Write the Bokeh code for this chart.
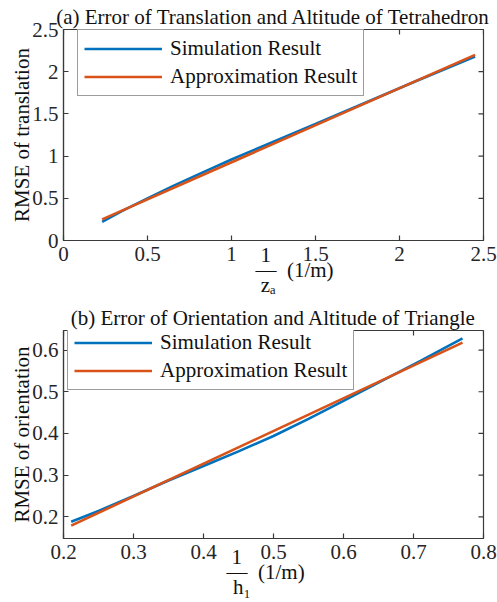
from bokeh.plotting import figure
from bokeh.layouts import column
from bokeh.models import Legend, LegendItem, FixedTicker, Range1d
from bokeh.embed import file_html
from bokeh.resources import INLINE

# ---------------- data ----------------
# (a) translation error vs 1/z_a
a_sim_x = [0.23, 0.35, 0.50, 0.65, 0.80, 1.00, 1.25, 1.50, 1.80, 2.10, 2.45]
a_sim_y = [0.22, 0.35, 0.50, 0.645, 0.78, 0.96, 1.17, 1.38, 1.635, 1.89, 2.18]
a_app_x = [0.23, 2.45]
a_app_y = [0.25, 2.20]
a_ticks = [0, 0.5, 1, 1.5, 2, 2.5]
a_tick_labels = ["0", "0.5", "1", "1.5", "2", "2.5"]

# (b) orientation error vs 1/h_1
b_sim_x = [0.211, 0.25, 0.30, 0.35, 0.40, 0.45, 0.50, 0.55, 0.60, 0.65, 0.71, 0.77]
b_sim_y = [0.188, 0.214, 0.250, 0.287, 0.322, 0.357, 0.394, 0.435, 0.478, 0.522, 0.574, 0.628]
b_app_x = [0.211, 0.77]
b_app_y = [0.179, 0.618]
b_xticks = [0.2, 0.3, 0.4, 0.5, 0.6, 0.7, 0.8]
b_xtick_labels = ["0.2", "0.3", "0.4", "0.5", "0.6", "0.7", "0.8"]
b_yticks = [0.2, 0.3, 0.4, 0.5, 0.6]
b_ytick_labels = ["0.2", "0.3", "0.4", "0.5", "0.6"]

series_names = ["Simulation Result", "Approximation Result"]
BLUE = "#0072BD"
ORANGE = "#D95319"
FONT = "Liberation Serif"
AX = "#3a3a3a"
FS = "21px"
NB = "\u00a0"

LEFT = 63
FRAME_W = 420
RIGHT = 14
W = LEFT + FRAME_W + RIGHT


def style_axes(p, xticks, xlabels, yticks, ylabels, xr, yr, fh, ylabel, xlabel, xl_standoff):
    p.xaxis.ticker = FixedTicker(ticks=xticks)
    p.yaxis.ticker = FixedTicker(ticks=yticks)
    p.xaxis.major_label_overrides = {t: l for t, l in zip(xticks, xlabels)}
    p.yaxis.major_label_overrides = {t: l for t, l in zip(yticks, ylabels)}
    for ax in [p.xaxis[0], p.yaxis[0]]:
        ax.major_tick_in = 5
        ax.major_tick_out = 0
        ax.minor_tick_line_color = None
        ax.axis_line_color = AX
        ax.axis_line_width = 1.2
        ax.major_tick_line_color = AX
        ax.major_tick_line_width = 1.2
        ax.major_label_text_font = FONT
        ax.major_label_text_font_size = FS
        ax.major_label_text_color = "#262626"
        ax.axis_label_text_font = FONT
        ax.axis_label_text_font_size = FS
        ax.axis_label_text_font_style = "normal"
        ax.axis_label_text_color = "#111111"
    p.xaxis.major_label_standoff = 6
    p.yaxis.major_label_standoff = 5
    p.yaxis.axis_label = ylabel
    p.yaxis.axis_label_standoff = -5
    p.xaxis.axis_label = xlabel
    p.xaxis.axis_label_standoff = xl_standoff
    p.xaxis.axis_label_text_line_height = 0.63
    p.grid.visible = False
    p.outline_line_color = AX
    p.outline_line_width = 1.2
    # inward ticks on the top and right edges of the box
    tick_dy = 5 * (yr[1] - yr[0]) / fh
    tick_dx = 5 * (xr[1] - xr[0]) / FRAME_W
    p.segment(x0=xticks, y0=[yr[1]] * len(xticks), x1=xticks,
              y1=[yr[1] - tick_dy] * len(xticks), line_color=AX, line_width=1.2)
    p.segment(x0=[xr[1]] * len(yticks), y0=yticks, x1=[xr[1] - tick_dx] * len(yticks),
              y1=yticks, line_color=AX, line_width=1.2)


def make_legend(p, r1, r2, loc):
    leg = Legend(items=[LegendItem(label=series_names[0], renderers=[r1]),
                        LegendItem(label=series_names[1], renderers=[r2])],
                 location=loc)
    leg.label_text_font = FONT
    leg.label_text_font_size = FS
    leg.label_text_color = "#111111"
    leg.glyph_width = 78
    leg.glyph_height = 23
    leg.label_height = 23
    leg.label_standoff = 8
    leg.padding = 6
    leg.spacing = 3
    leg.margin = 0
    leg.border_line_color = AX
    leg.border_line_width = 1.2
    leg.background_fill_color = "white"
    leg.background_fill_alpha = 1
    p.add_layout(leg, "center")


def set_title(p, text, standoff, valign):
    p.title.text = text
    p.title.align = "center"
    p.title.vertical_align = valign
    p.title.text_font = FONT
    p.title.text_font_size = FS
    p.title.text_font_style = "normal"
    p.title.text_color = "#111111"
    p.title.standoff = standoff


# ---------------- figure (a) ----------------
XA = (0, 2.5)
YA = (0, 2.5)
TOP_A, FHA, BOT_A = 29, 214, 56
xlabel_a = ("1" + NB * 3 + "\n" + NB * 8 + "\u2014" + NB * 2 + "(1/m)" +
            "\nz\u2090" + NB * 2)
pa = figure(width=W, height=TOP_A + FHA + BOT_A, output_backend="svg",
            toolbar_location=None, x_range=Range1d(*XA), y_range=Range1d(*YA),
            min_border_left=LEFT, min_border_right=RIGHT,
            min_border_top=TOP_A, min_border_bottom=BOT_A)
ra1 = pa.line(a_sim_x, a_sim_y, line_color=BLUE, line_width=2.6)
ra2 = pa.line(a_app_x, a_app_y, line_color=ORANGE, line_width=2.6)
style_axes(pa, a_ticks, a_tick_labels, a_ticks, a_tick_labels, XA, YA, FHA,
           "RMSE of translation", xlabel_a, -21)
make_legend(pa, ra1, ra2, (14, 144))
set_title(pa, "(a) Error of Translation and Altitude of Tetrahedron", 0, "middle")

# ---------------- figure (b) ----------------
XB = (0.2, 0.8)
YB = (0.148, 0.647)
TOP_B, FHB, BOT_B = 31, 211, 60
xlabel_b = ("1" + NB * 14 + "\n" + "\u2014" + NB * 2 + "(1/m)" + NB * 3 +
            "\nh\u2081" + NB * 12)
pb = figure(width=W, height=TOP_B + FHB + BOT_B, output_backend="svg",
            toolbar_location=None, x_range=Range1d(*XB), y_range=Range1d(*YB),
            min_border_left=LEFT, min_border_right=RIGHT,
            min_border_top=TOP_B, min_border_bottom=BOT_B)
rb1 = pb.line(b_sim_x, b_sim_y, line_color=BLUE, line_width=2.6)
rb2 = pb.line(b_app_x, b_app_y, line_color=ORANGE, line_width=2.6)
style_axes(pb, b_xticks, b_xtick_labels, b_yticks, b_ytick_labels, XB, YB, FHB,
           "RMSE of orientation", xlabel_b, -17)
make_legend(pb, rb1, rb2, (4, 148))
set_title(pb, "(b) Error of Orientation and Altitude of Triangle", 2, "bottom")

layout = column(pa, pb, spacing=0)
open("out.html", "w").write(file_html(layout, INLINE))
